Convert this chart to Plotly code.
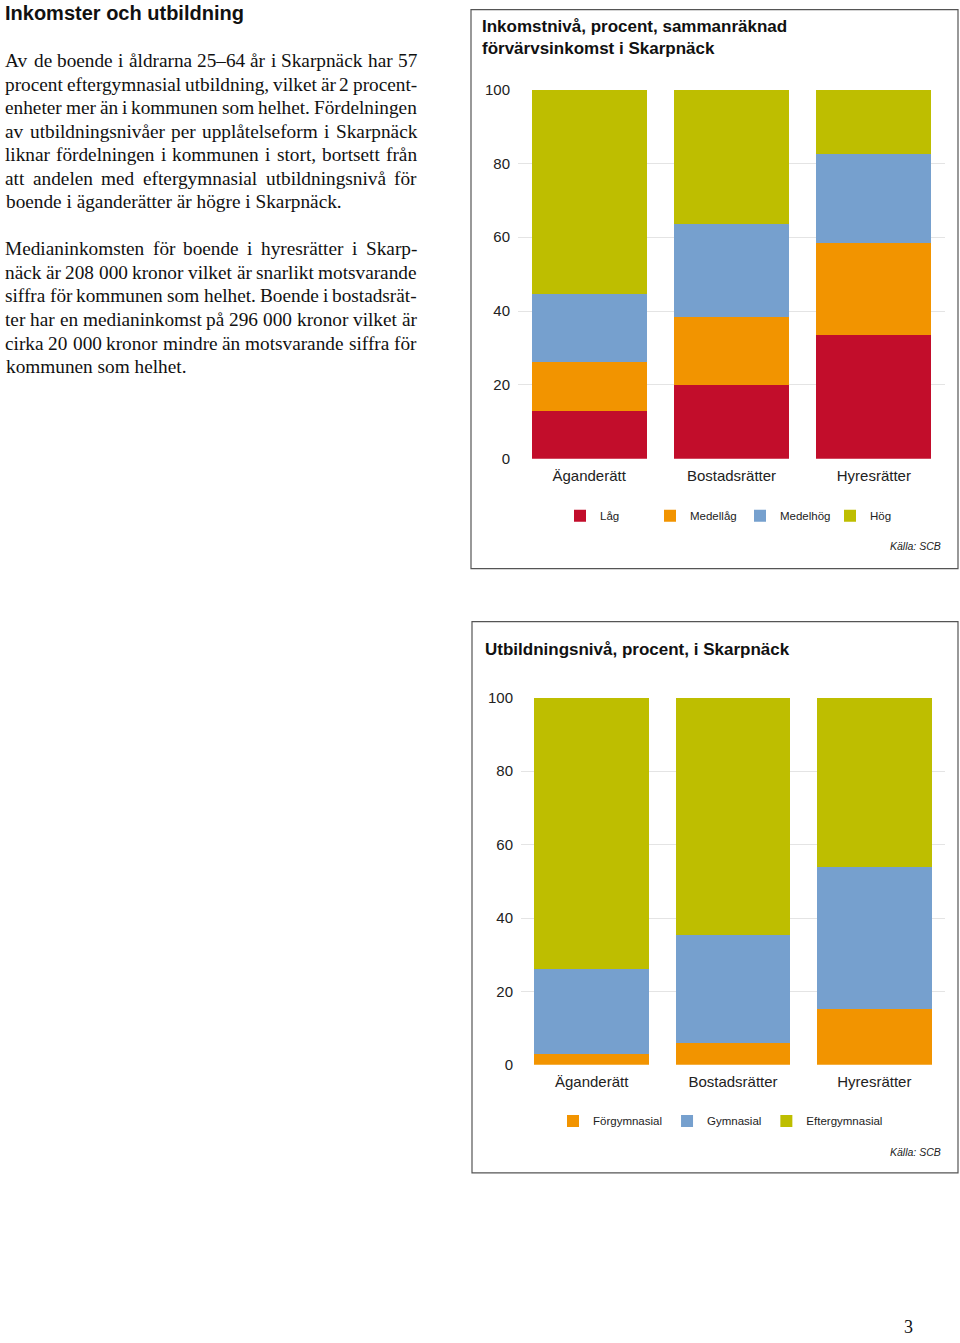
import plotly.graph_objects as go

W, H = 960, 1343
# the photographed page comes out slightly squeezed vertically; these map the
# wanted picture row onto the page row
Y_OFF, Y_SCALE = 8.5, 0.987

# ---------- data ----------
categories = ["Äganderätt", "Bostadsrätter", "Hyresrätter"]

inc_series = ["Låg", "Medellåg", "Medelhög", "Hög"]
inc_lag = [13.0, 20.0, 33.6]
inc_medellag = [13.3, 18.5, 24.9]
inc_medelhog = [18.4, 25.2, 23.9]
inc_hog = [55.3, 36.3, 17.6]

edu_series = ["Förgymnasial", "Gymnasial", "Eftergymnasial"]
edu_forg = [3.0, 6.0, 15.3]
edu_gymn = [23.2, 29.4, 38.7]
edu_efter = [73.8, 64.6, 46.0]

y_ticks = [0, 20, 40, 60, 80, 100]

colors = {"red": "#C20D2B", "orange": "#F29400", "blue": "#76A0CE", "olive": "#BEBE00"}

heading = "Inkomster och utbildning"
para1 = [
    "Av de boende i åldrarna 25–64 år i Skarpnäck har 57",
    "procent eftergymnasial utbildning, vilket är 2 procent-",
    "enheter mer än i kommunen som helhet. Fördelningen",
    "av utbildningsnivåer per upplåtelseform i Skarpnäck",
    "liknar fördelningen i kommunen i stort, bortsett från",
    "att andelen med eftergymnasial utbildningsnivå för",
    "boende i äganderätter är högre i Skarpnäck.",
]
para2 = [
    "Medianinkomsten för boende i hyresrätter i Skarp-",
    "näck är 208 000 kronor vilket är snarlikt motsvarande",
    "siffra för kommunen som helhet. Boende i bostadsrät-",
    "ter har en medianinkomst på 296 000 kronor vilket är",
    "cirka 20 000 kronor mindre än motsvarande siffra för",
    "kommunen som helhet.",
]


def px(x):
    return x / W


def py(y):
    page_y = (y - Y_OFF) / Y_SCALE
    page_y = min(max(page_y, 0.6), H - 0.6)
    return 1 - page_y / H


# Times/Liberation Serif advance widths (per 1000 em) for justifying the body text
TIMES = {
    "a": 444, "b": 500, "c": 444, "d": 500, "e": 444, "f": 333, "g": 500, "h": 500,
    "i": 278, "j": 278, "k": 500, "l": 278, "m": 778, "n": 500, "o": 500, "p": 500,
    "q": 500, "r": 333, "s": 389, "t": 278, "u": 500, "v": 500, "w": 722, "x": 500,
    "y": 500, "z": 444, "å": 444, "ä": 444, "ö": 500, "–": 500, "-": 333, ",": 250,
    ".": 250, "A": 722, "B": 667, "F": 556, "M": 889, "S": 556, " ": 250,
}


def word_width(w, size):
    return sum(TIMES.get(ch, 500) for ch in w) * size / 1000.0


fig = go.Figure()

inc_vals = [inc_lag, inc_medellag, inc_medelhog, inc_hog]
inc_cols = [colors["red"], colors["orange"], colors["blue"], colors["olive"]]
for name, vals, c in zip(inc_series, inc_vals, inc_cols):
    fig.add_trace(go.Bar(x=categories, y=vals, name=name, marker_color=c,
                         marker_line_width=0, xaxis="x", yaxis="y", legend="legend"))

edu_vals = [edu_forg, edu_gymn, edu_efter]
edu_cols = [colors["orange"], colors["blue"], colors["olive"]]
for name, vals, c in zip(edu_series, edu_vals, edu_cols):
    fig.add_trace(go.Bar(x=categories, y=vals, name=name, marker_color=c,
                         marker_line_width=0, xaxis="x2", yaxis="y2", legend="legend2"))

axfont = dict(family="Liberation Sans, Arial, sans-serif", size=15, color="#222")

xcommon = dict(showgrid=False, showline=False, zeroline=False, ticks="",
               tickfont=axfont, fixedrange=True, ticklabelstandoff=6)
ycommon = dict(range=[0, 100], tickvals=y_ticks, showgrid=True, gridcolor="#e4e4e4",
               gridwidth=1, zeroline=False, showline=False, ticks="",
               tickfont=axfont, fixedrange=True, ticklabelstandoff=7)

legfont = dict(family="Liberation Sans, Arial, sans-serif", size=11.5, color="#222")

fig.update_layout(
    width=W, height=H,
    margin=dict(l=0, r=0, t=0, b=0),
    paper_bgcolor="white", plot_bgcolor="white",
    barmode="stack", bargap=0.19,
    xaxis=dict(domain=[px(518), px(945)], anchor="y", **xcommon),
    yaxis=dict(domain=[py(458), py(89)], anchor="x", **ycommon),
    xaxis2=dict(domain=[px(521), px(945)], anchor="y2", **xcommon),
    yaxis2=dict(domain=[py(1064), py(697)], anchor="x2", **ycommon),
    legend=dict(orientation="h", x=px(560), xanchor="left", y=py(515), yanchor="middle",
                font=legfont, traceorder="normal", bgcolor="rgba(0,0,0,0)",
                entrywidth=45, entrywidthmode="pixels"),
    legend2=dict(orientation="h", x=px(553), xanchor="left", y=py(1120), yanchor="middle",
                 font=legfont, traceorder="normal", bgcolor="rgba(0,0,0,0)"),
    showlegend=True,
)

# boxes
fig.add_shape(type="rect", xref="paper", yref="paper", x0=px(471), x1=px(958),
              y0=py(568), y1=py(2), line=dict(color="#555", width=1.2))
fig.add_shape(type="rect", xref="paper", yref="paper", x0=px(472), x1=px(958),
              y0=py(1172), y1=py(621), line=dict(color="#555", width=1.2))

sans = "Liberation Sans, Arial, sans-serif"
serif = "Liberation Serif, Times New Roman, serif"
BODY_SIZE = 19.3
LEFT, RIGHT = 4, 416

# heading
fig.add_annotation(xref="paper", yref="paper", x=px(3), y=py(12), xanchor="left",
                   yanchor="middle", showarrow=False, text="<b>" + heading + "</b>",
                   font=dict(family=sans, size=20, color="#111"))


def add_paragraph(lines, y0, step):
    for i, line in enumerate(lines):
        y = py(y0 + i * step)
        words = line.split(" ")
        last = i == len(lines) - 1
        if last or len(words) < 2:
            fig.add_annotation(xref="paper", yref="paper", x=px(LEFT), y=y,
                               xanchor="left", yanchor="middle", showarrow=False,
                               text=line, font=dict(family=serif, size=BODY_SIZE, color="#111"))
            continue
        widths = [word_width(w, BODY_SIZE) for w in words]
        gap = (RIGHT - LEFT - sum(widths)) / (len(words) - 1)
        x = LEFT
        for w, ww in zip(words, widths):
            fig.add_annotation(xref="paper", yref="paper", x=px(x - 1), y=y,
                               xanchor="left", yanchor="middle", showarrow=False,
                               text=w, font=dict(family=serif, size=BODY_SIZE, color="#111"))
            x += ww + gap


add_paragraph(para1, 60, 23.5)
add_paragraph(para2, 248, 23.6)

# chart titles
fig.add_annotation(xref="paper", yref="paper", x=px(480), y=py(26), xanchor="left",
                   yanchor="middle", showarrow=False,
                   text="<b>Inkomstnivå, procent, sammanräknad</b>",
                   font=dict(family=sans, size=17, color="#111"))
fig.add_annotation(xref="paper", yref="paper", x=px(480), y=py(48), xanchor="left",
                   yanchor="middle", showarrow=False,
                   text="<b>förvärvsinkomst i Skarpnäck</b>",
                   font=dict(family=sans, size=17, color="#111"))
fig.add_annotation(xref="paper", yref="paper", x=px(483), y=py(649), xanchor="left",
                   yanchor="middle", showarrow=False,
                   text="<b>Utbildningsnivå, procent, i Skarpnäck</b>",
                   font=dict(family=sans, size=17, color="#111"))

# sources
for yy in (545, 1151):
    fig.add_annotation(xref="paper", yref="paper", x=px(943), y=py(yy), xanchor="right",
                       yanchor="middle", showarrow=False, text="<i>Källa: SCB</i>",
                       font=dict(family=sans, size=10.5, color="#222"))

# page number
fig.add_annotation(xref="paper", yref="paper", x=px(908), y=0, xanchor="center",
                   yanchor="bottom", yshift=-4, showarrow=False, text="3",
                   font=dict(family=serif, size=18, color="#111"))

fig.write_html(
    "out.html",
    config={"displayModeBar": False, "staticPlot": True},
    post_script="document.body.style.margin='0';"
                "document.documentElement.style.overflow='hidden';",
)
